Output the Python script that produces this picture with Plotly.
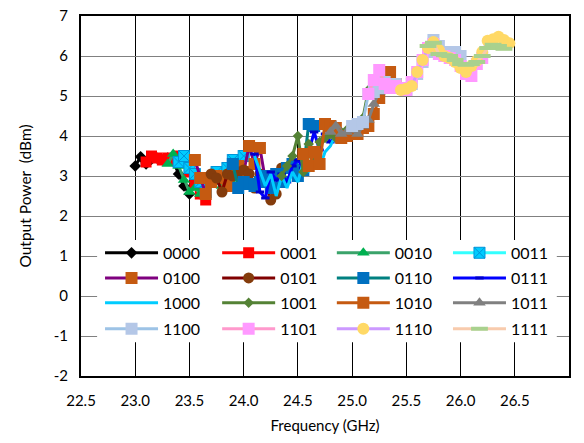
import plotly.graph_objects as go

# ---------------- data ----------------
freq_0000 = [23.00, 23.05, 23.10, 23.15, 23.20, 23.25, 23.30, 23.35, 23.40, 23.45, 23.50]
pwr_0000 = [3.25, 3.48, 3.30, 3.42, 3.45, 3.40, 3.45, 3.38, 3.05, 2.75, 2.55]

freq_0001 = [23.10, 23.15, 23.20, 23.25, 23.30, 23.35, 23.40, 23.45, 23.50, 23.55, 23.60, 23.65]
pwr_0001 = [3.35, 3.50, 3.45, 3.40, 3.45, 3.40, 3.50, 3.45, 3.10, 2.80, 2.55, 2.40]

freq_0010 = [23.30, 23.35, 23.40, 23.45, 23.50, 23.55, 23.60, 23.65, 23.70, 23.75, 23.80, 23.85, 23.90]
pwr_0010 = [3.30, 3.55, 3.25, 2.90, 2.60, 2.70, 2.55, 2.80, 2.95, 2.85, 2.75, 2.70, 2.80]

freq_0011 = [23.40, 23.45, 23.50, 23.55, 23.60, 23.65, 23.70, 23.75, 23.80, 23.85, 23.90, 23.95, 24.00]
pwr_0011 = [3.35, 3.50, 3.20, 3.05, 2.85, 2.60, 2.90, 3.10, 2.95, 3.20, 3.40, 3.10, 3.50]

freq_0100 = [23.55, 23.60, 23.65, 23.70, 23.75, 23.80, 23.85, 23.90, 23.95, 24.00, 24.05, 24.10, 24.15, 24.20]
pwr_0100 = [3.40, 2.95, 2.55, 2.85, 3.00, 2.95, 2.75, 3.05, 3.25, 3.10, 3.75, 3.30, 3.70, 2.90]

freq_0101 = [23.70, 23.75, 23.80, 23.85, 23.90, 23.95, 24.00, 24.05, 24.10, 24.15, 24.20, 24.25, 24.30, 24.35]
pwr_0101 = [3.05, 2.95, 2.60, 3.05, 3.00, 3.10, 3.15, 3.05, 2.70, 3.05, 2.85, 2.40, 2.55, 3.20]

freq_0110 = [23.90, 23.95, 24.00, 24.05, 24.10, 24.15, 24.20, 24.25, 24.30, 24.35, 24.40, 24.45, 24.50, 24.55, 24.60, 24.65]
pwr_0110 = [3.30, 2.70, 2.85, 2.80, 2.75, 2.85, 3.00, 2.70, 3.05, 2.85, 3.20, 3.30, 3.00, 3.15, 4.30, 4.25]

freq_0111 = [24.10, 24.15, 24.20, 24.25, 24.30, 24.35, 24.40, 24.45, 24.50, 24.55, 24.60, 24.65, 24.70, 24.75, 24.80, 24.85]
pwr_0111 = [3.55, 2.60, 2.45, 3.10, 2.90, 3.05, 2.85, 3.25, 3.40, 3.20, 3.60, 4.10, 3.65, 4.05, 3.85, 4.00]

freq_1000 = [24.10, 24.15, 24.20, 24.25, 24.30, 24.35, 24.40, 24.45, 24.50, 24.55, 24.60, 24.65, 24.70, 24.75, 24.80, 24.85]
pwr_1000 = [3.50, 3.15, 2.75, 3.05, 2.50, 3.00, 2.70, 3.10, 2.85, 3.35, 3.10, 3.40, 3.20, 3.60, 3.75, 4.05]

freq_1001 = [24.35, 24.40, 24.45, 24.50, 24.55, 24.60, 24.65, 24.70, 24.75, 24.80, 24.85, 24.90, 24.95, 25.00, 25.05, 25.10, 25.15, 25.20]
pwr_1001 = [3.00, 3.25, 3.50, 4.00, 3.10, 3.80, 3.45, 3.85, 3.95, 4.05, 3.95, 4.10, 4.15, 4.20, 4.30, 4.45, 5.15, 5.40]

freq_1010 = [24.55, 24.60, 24.65, 24.70, 24.75, 24.80, 24.85, 24.90, 24.95, 25.00, 25.05, 25.10, 25.15, 25.20, 25.25, 25.30, 25.35, 25.40, 25.45]
pwr_1010 = [3.55, 3.25, 3.60, 3.30, 4.30, 4.25, 4.20, 3.95, 4.00, 4.10, 4.05, 4.20, 4.25, 4.55, 4.95, 5.25, 5.60, 5.30, 5.20]

freq_1011 = [24.80, 24.85, 24.90, 24.95, 25.00, 25.05, 25.10, 25.15, 25.20, 25.25, 25.30, 25.35]
pwr_1011 = [4.10, 4.25, 4.05, 4.10, 4.15, 4.05, 4.25, 4.40, 4.80, 5.10, 5.35, 5.20]

freq_1100 = [25.00, 25.05, 25.10, 25.15, 25.20, 25.25, 25.30, 25.35, 25.40, 25.45, 25.50, 25.55, 25.60, 25.65, 25.70, 25.75, 25.80, 25.85, 25.90, 25.95, 26.00]
pwr_1100 = [4.25, 4.30, 4.35, 5.05, 5.10, 5.20, 5.35, 5.25, 5.30, 5.20, 5.15, 5.30, 5.55, 5.85, 6.10, 6.40, 6.25, 6.10, 6.05, 6.10, 6.00]

freq_1101 = [25.15, 25.20, 25.25, 25.30, 25.35, 25.40, 25.45, 25.50, 25.55, 25.60, 25.65, 25.70, 25.75, 25.80, 25.85, 25.90, 25.95, 26.00, 26.05, 26.10, 26.15, 26.20]
pwr_1101 = [5.05, 5.40, 5.65, 5.30, 5.20, 5.25, 5.20, 5.15, 5.35, 5.60, 5.90, 6.20, 6.30, 6.05, 6.00, 5.95, 5.90, 5.75, 5.55, 5.50, 5.80, 5.95]

freq_1110 = [25.45, 25.50, 25.55, 25.60, 25.65, 25.70, 25.75, 25.80, 25.85, 25.90, 25.95, 26.00, 26.05, 26.10, 26.15, 26.20, 26.25, 26.30, 26.35, 26.40, 26.45]
pwr_1110 = [5.15, 5.18, 5.25, 5.60, 5.90, 6.20, 6.35, 6.15, 6.00, 5.95, 5.85, 5.70, 5.60, 5.75, 5.88, 6.10, 6.38, 6.42, 6.48, 6.40, 6.32]

freq_1111 = [25.70, 25.75, 25.80, 25.85, 25.90, 25.95, 26.00, 26.05, 26.10, 26.15, 26.20, 26.25, 26.30, 26.35, 26.40]
pwr_1111 = [6.25, 6.33, 6.05, 6.02, 6.00, 5.90, 5.80, 5.78, 5.80, 5.85, 6.00, 6.20, 6.28, 6.25, 6.18]

x_ticks = [22.5, 23.0, 23.5, 24.0, 24.5, 25.0, 25.5, 26.0, 26.5, 27.0]
y_ticks = [-2, -1, 0, 1, 2, 3, 4, 5, 6, 7]

# ---------------- styles ----------------
series = [
    ("0000", freq_0000, pwr_0000, "#000000", dict(symbol="diamond", size=9, color="#000000")),
    ("0001", freq_0001, pwr_0001, "#ff0000", dict(symbol="square", size=11, color="#ff0000")),
    ("0010", freq_0010, pwr_0010, "#3aa36a", dict(symbol="triangle-up", size=11, color="#00b050")),
    ("0011", freq_0011, pwr_0011, "#33ffff", dict(symbol="square-x", size=11, color="#00ccff",
                                                  line=dict(color="#0095d9", width=1))),
    ("0100", freq_0100, pwr_0100, "#7f007f", dict(symbol="square", size=12, color="#c55a11")),
    ("0101", freq_0101, pwr_0101, "#800000", dict(symbol="circle", size=11, color="#843c0c")),
    ("0110", freq_0110, pwr_0110, "#008080", dict(symbol="square", size=12, color="#0070c0")),
    ("0111", freq_0111, pwr_0111, "#0000ff", dict(symbol="line-ew", size=6,
                                                  line=dict(color="#0000cc", width=3))),
    ("1000", freq_1000, pwr_1000, "#00ccff", None),
    ("1001", freq_1001, pwr_1001, "#548235", dict(symbol="diamond", size=8, color="#548235")),
    ("1010", freq_1010, pwr_1010, "#c55a11", dict(symbol="square", size=12, color="#c55a11")),
    ("1011", freq_1011, pwr_1011, "#808080", dict(symbol="triangle-up", size=11, color="#808080")),
    ("1100", freq_1100, pwr_1100, "#9dc3e6", dict(symbol="square", size=12, color="#b4c7e7")),
    ("1101", freq_1101, pwr_1101, "#ff99cc", dict(symbol="square", size=12, color="#ff99ff")),
    ("1110", freq_1110, pwr_1110, "#cc99ff", dict(symbol="circle", size=12, color="#ffd966")),
    ("1111", freq_1111, pwr_1111, "#f8cbad", dict(symbol="line-ew", size=12,
                                                  line=dict(color="#a9d18e", width=4))),
]

FONT = "Lato, 'Open Sans', sans-serif"
fig = go.Figure()

col_x = [0.039, 0.279, 0.514, 0.752]
row_y = [0.342, 0.272, 0.203, 0.131]
layout_legends = {}
for i, (name, fx, py, lc, mk) in enumerate(series):
    legend_id = "legend" if i == 0 else f"legend{i + 1}"
    layout_legends[legend_id] = dict(
        x=col_x[i % 4], y=row_y[i // 4], xanchor="left", yanchor="middle",
        bgcolor="rgba(0,0,0,0)", borderwidth=0,
        font=dict(family=FONT, size=16, color="#000"),
        itemwidth=53, itemclick=False, itemdoubleclick=False)
    if mk is None:
        fig.add_trace(go.Scatter(x=fx, y=py, name=name, mode="lines",
                                 line=dict(color=lc, width=3), legend=legend_id))
    else:
        fig.add_trace(go.Scatter(x=fx, y=py, name=name, mode="lines+markers",
                                 line=dict(color=lc, width=3), marker=mk, legend=legend_id))

# white box behind the legend
fig.add_shape(type="rect", xref="paper", yref="paper", x0=0.033, x1=0.975, y0=0.094, y1=0.378,
              fillcolor="white", line=dict(width=0), layer="above")

fig.update_layout(
    width=584, height=443,
    margin=dict(l=81, r=15, t=16, b=67),
    paper_bgcolor="white", plot_bgcolor="white",
    font=dict(family=FONT, size=15, color="#000"),
    showlegend=True,
    **layout_legends,
)
fig.update_xaxes(range=[22.5, 27.0], tickvals=x_ticks, ticktext=[f"{v:.1f}" for v in x_ticks],
                 showgrid=True, gridcolor="#000000", gridwidth=1.3,
                 showline=True, linecolor="#000", linewidth=2, mirror=True,
                 zeroline=False, ticks="", tickfont=dict(size=15), automargin=False,
                 ticklabelstandoff=10,
                 title=dict(text="Frequency (GHz)", font=dict(size=15), standoff=12))
fig.update_yaxes(range=[-2, 7], tickvals=y_ticks, ticktext=[str(v) for v in y_ticks],
                 showgrid=True, gridcolor="#808080", gridwidth=1.3,
                 showline=True, linecolor="#000", linewidth=2, mirror=True,
                 zeroline=False, ticks="", tickfont=dict(size=15), automargin=False,
                 ticklabelstandoff=8,
                 title=dict(text="Output Power&nbsp; (dBm)", font=dict(size=15.5), standoff=18))

fig.write_html("out.html", config={"displayModeBar": False},
               post_script="document.body.style.margin='0px';document.body.style.padding='0px';")
